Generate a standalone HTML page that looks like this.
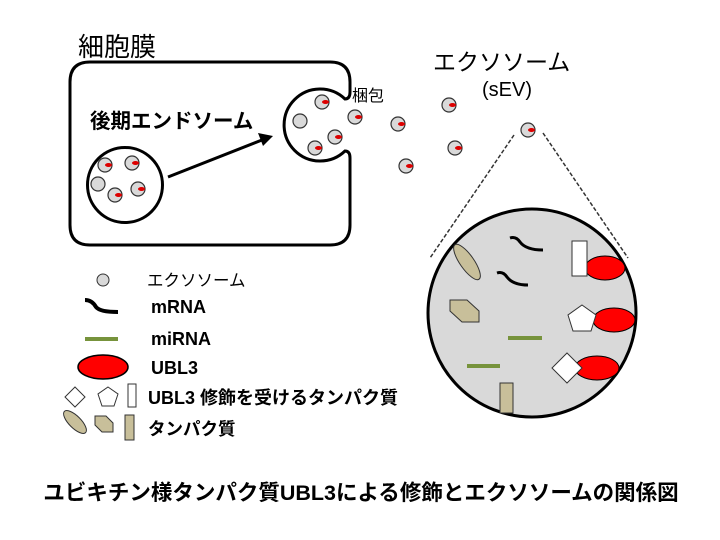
<!DOCTYPE html><html><head><meta charset="utf-8"><style>body{margin:0;background:#fff}svg{display:block}text{font-family:"Liberation Sans","Noto Sans CJK JP",sans-serif}</style></head><body>
<svg width="720" height="540" viewBox="0 0 720 540" xmlns="http://www.w3.org/2000/svg">
<defs>
<g id="v"><circle r="7" fill="#d9d9d9" stroke="#333" stroke-width="1.2"/><ellipse cx="3.5" cy="0" rx="3.5" ry="2" fill="#d00"/></g>
<g id="p"><circle r="7" fill="#d9d9d9" stroke="#333" stroke-width="1.2"/></g>
</defs>
<text x="78" y="56" font-size="26">細胞膜</text>
<path d="M90,62 H330 Q350,62 350,82 V92 Q350,99 345,99 A36 36 0 1 0 345 151 Q350,151 350,158 V225 Q350,245 330,245 H90 Q70,245 70,225 V82 Q70,62 90,62 Z" fill="none" stroke="#000" stroke-width="3"/>
<text x="90" y="128" font-size="20.5" font-weight="bold">後期エンドソーム</text>
<circle cx="125" cy="185" r="37.5" fill="#fff" stroke="#000" stroke-width="3"/>
<use href="#v" x="105" y="165"/><use href="#v" x="132" y="163"/><use href="#p" x="98" y="184"/><use href="#v" x="138" y="189"/><use href="#v" x="115" y="195"/>
<line x1="168" y1="177" x2="262" y2="140" stroke="#000" stroke-width="3"/>
<polygon points="273,136 258,133 263,146" fill="#000"/>
<use href="#v" x="322" y="102"/><use href="#p" x="300" y="121"/><use href="#v" x="335" y="137"/><use href="#v" x="315" y="148"/>
<text x="352" y="101" font-size="16">梱包</text>
<use href="#v" x="355" y="117"/><use href="#v" x="398" y="124"/><use href="#v" x="449" y="105"/><use href="#v" x="455" y="148"/><use href="#v" x="406" y="166"/><use href="#v" x="528" y="130"/>
<text x="433" y="70" font-size="23">エクソソーム</text>
<text x="507" y="96" font-size="20" text-anchor="middle">(sEV)</text>
<line x1="514" y1="135" x2="430" y2="258" stroke="#333" stroke-width="1.5" stroke-dasharray="4,2"/>
<line x1="543" y1="133" x2="628" y2="258" stroke="#333" stroke-width="1.5" stroke-dasharray="4,2"/>
<circle cx="532" cy="313" r="104" fill="#d9d9d9" stroke="#000" stroke-width="3"/>
<ellipse cx="467" cy="262" rx="21" ry="7" transform="rotate(55 467 262)" fill="#c8bf9a" stroke="#333"/>
<path d="M510,238 Q516,236 520,242 Q526,250 543,250" fill="none" stroke="#000" stroke-width="3"/>
<path d="M497,273 Q503,271 507,277 Q513,285 528,285" fill="none" stroke="#000" stroke-width="3"/>
<polygon points="450,300 467,300 479,311 479,322 462,322 450,311" fill="#c8bf9a" stroke="#333"/>
<line x1="508" y1="338" x2="542" y2="338" stroke="#77933c" stroke-width="4"/>
<line x1="467" y1="366" x2="500" y2="366" stroke="#77933c" stroke-width="4"/>
<rect x="500" y="383" width="13" height="30" fill="#c8bf9a" stroke="#333"/>
<ellipse cx="605" cy="268" rx="20" ry="12" fill="#f00" stroke="#000"/>
<rect x="572" y="241" width="15" height="35" fill="#fff" stroke="#333"/>
<ellipse cx="614" cy="320" rx="21" ry="12" fill="#f00" stroke="#000"/>
<polygon points="582,305 596,315 591,331 573,331 568,315" fill="#fff" stroke="#333"/>
<ellipse cx="597" cy="368" rx="22" ry="12" fill="#f00" stroke="#000"/>
<polygon points="567,353 582,368 567,383 552,368" fill="#fff" stroke="#333"/>
<circle cx="103" cy="280" r="6" fill="#d9d9d9" stroke="#333"/>
<text x="147" y="286" font-size="16.5">エクソソーム</text>
<path d="M85,300 Q92,300 96,307 Q100,312 118,312" fill="none" stroke="#000" stroke-width="4"/>
<text x="151" y="313" font-size="18" font-weight="bold">mRNA</text>
<line x1="85" y1="339" x2="118" y2="339" stroke="#77933c" stroke-width="4"/>
<text x="151" y="345" font-size="18" font-weight="bold">miRNA</text>
<ellipse cx="103" cy="367" rx="25" ry="12" fill="#f00" stroke="#000" stroke-width="1.5"/>
<text x="151" y="374" font-size="18" font-weight="bold">UBL3</text>
<polygon points="75,387 85,397 75,407 65,397" fill="#fff" stroke="#333"/>
<polygon points="108,387 118,394 114,406 102,406 98,394" fill="#fff" stroke="#333"/>
<rect x="128" y="384" width="8" height="23" fill="#fff" stroke="#333"/>
<text x="148" y="404" font-size="18" font-weight="bold">UBL3 修飾を受けるタンパク質</text>
<ellipse cx="75" cy="422" rx="15" ry="6" transform="rotate(45 75 422)" fill="#c8bf9a" stroke="#333"/>
<polygon points="95,416 106,416 113,423 113,432 102,432 95,425" fill="#c8bf9a" stroke="#333"/>
<rect x="125" y="415" width="9" height="25" fill="#c8bf9a" stroke="#333"/>
<text x="148" y="435" font-size="17.5" font-weight="bold">タンパク質</text>
<text x="361" y="500" font-size="21.5" font-weight="bold" text-anchor="middle">ユビキチン様タンパク質UBL3による修飾とエクソソームの関係図</text>
</svg>
</body></html>
